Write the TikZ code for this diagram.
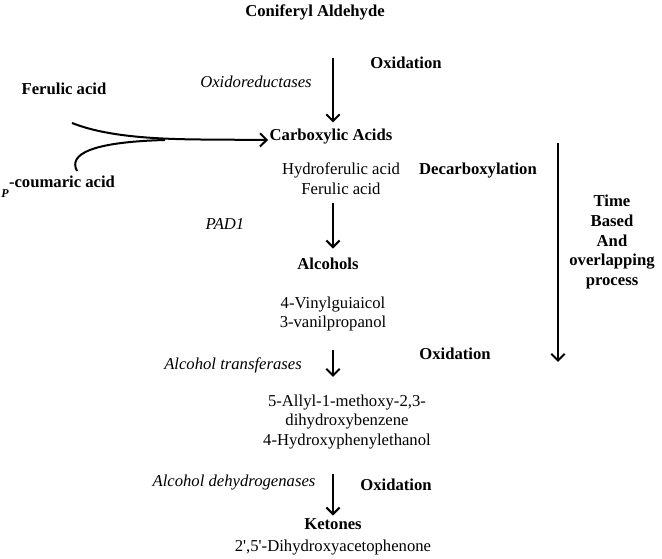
\documentclass[tikz,border=0pt]{standalone}
\usepackage{fontspec}
\setmainfont{Liberation Serif}
\usetikzlibrary{arrows.meta, positioning, calc}

\tikzset{
  every node/.style={font=\fontsize{12.5}{14.8}\selectfont, inner sep=1pt, align=center},
  stage/.style={font=\fontsize{12.5}{14.8}\selectfont\bfseries},
  enzyme/.style={font=\fontsize{12.5}{14.8}\selectfont\itshape},
  flow/.style={line width=1.5pt, -{Straight Barb[length=5pt,width=10pt,line width=1.5pt]}},
}

\begin{document}
\begin{tikzpicture}[x=0.75pt, y=-0.75pt]
      \useasboundingbox (0,0) rectangle (662,559);

      % main chain
      \node[stage] (coniferyl) at (315,12) {Coniferyl Aldehyde};
      \node[stage] (carbox) at (331,137) {Carboxylic Acids};
      \node (acids) at (341,179) {Hydroferulic acid\\Ferulic acid};
      \node[stage] (alcohols) at (328,264) {Alcohols};
      \node (vinyl) at (333,314) {4-Vinylguiaicol\\3-vanilpropanol};
      \node (allyl) at (347,422) {5-Allyl-1-methoxy-2,3-\\dihydroxybenzene\\4-Hydroxyphenylethanol};
      \node[stage] (ketones) at (333,524) {Ketones};
      \node (dihydroxy) at (333,548) {2\textquotesingle,5\textquotesingle-Dihydroxyacetophenone};

      % side inputs
      \node[stage] (ferulic) at (64,89) {Ferulic acid};
      \node[stage] (coumaric) at (62,182) {-coumaric acid};
      \node[font=\fontsize{9}{10}\selectfont\bfseries\itshape] (subP) at (5,194) {P};

      % enzymes and steps
      \node[enzyme] (oxred) at (256,82) {Oxidoreductases};
      \node[stage] (ox1) at (406,63) {Oxidation};
      \node[stage] (decarb) at (478,171) {Decarboxylation};
      \node[enzyme] (pad) at (225,224) {PAD1};
      \node[enzyme] (transf) at (233,365) {Alcohol transferases};
      \node[stage] (ox2) at (455,354) {Oxidation};
      \node[enzyme] (dehyd) at (234,483) {Alcohol dehydrogenases};
      \node[stage] (ox3) at (396,485) {Oxidation};
      \node[stage] (timebased) at (612,242) {Time\\Based\\And\\overlapping\\process};

      % arrows
      \coordinate (s1) at (333,58);
      \coordinate (s2) at (333,203);
      \coordinate (s3) at (333,350);
      \coordinate (s4) at (333,474);
      \draw[flow, shorten >=4pt] (s1) -- (s1 |- carbox.north);
      \draw[flow, shorten >=6pt] (s2) -- (s2 |- alcohols.north);
      \draw[flow] (s3) -- ++(0,27);
      \draw[flow, shorten >=1pt] (s4) -- (s4 |- ketones.north);

      \coordinate (ferin) at (72,123);
      \coordinate (coumin) at (77,171);
      \draw[flow] (ferin) .. controls (105,136) and (150,139) .. (200,139.5) -- (carbox.west |- 0,140);
      \draw[line width=1.5pt] (coumin) .. controls (68,154) and (92,142) .. (165,140);

      \coordinate (tstart) at (558,143);
      \coordinate (tend) at (558,362);
      \draw[flow] (tstart) -- (tend);
\end{tikzpicture}
\end{document}
